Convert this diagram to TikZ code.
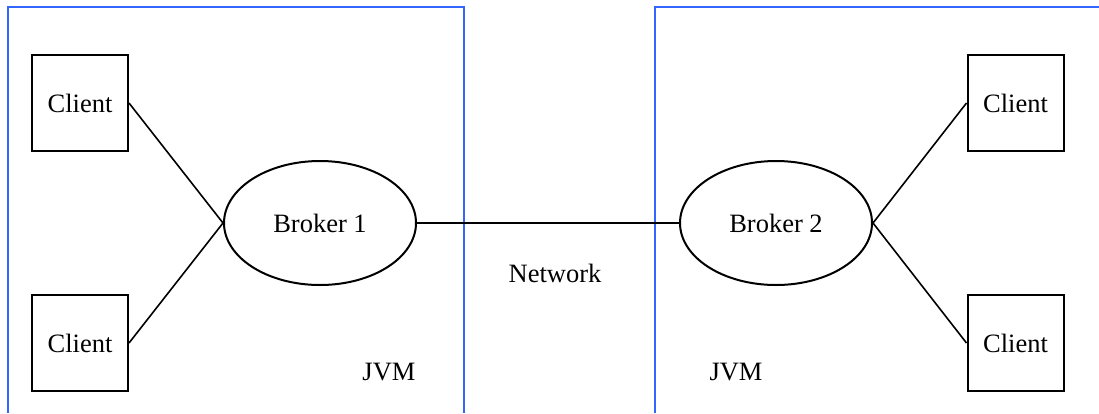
\documentclass[tikz,border=0pt]{standalone}
\usepackage{fontspec}
\setmainfont{Liberation Serif}
\usetikzlibrary{shapes.geometric}
\definecolor{jvmblue}{RGB}{51,102,255}
\begin{document}
\begin{tikzpicture}[x=1pt,y=-1pt,
  every node/.style={font=\fontsize{26.5}{31}\selectfont},
  client/.style={draw, line width=2pt, minimum width=96pt, minimum height=96pt, inner sep=0pt},
  broker/.style={draw, ellipse, line width=2pt, minimum width=192pt, minimum height=124pt, inner sep=0pt},
  link/.style={line width=1.6pt},
  jvm/.style={draw=jvmblue, line width=2pt}]
\useasboundingbox (0,0) rectangle (1099,413);
% JVM containers (open at the bottom and at the right)
\draw[jvm] (8,413) -- (8,7) -- (464,7) -- (464,413);
\draw[jvm] (655,413) -- (655,7) -- (1099,7);
% clients
\node[client] (c1) at (80,103) {Client};
\node[client] (c2) at (80,343) {Client};
\node[client] (c3) at (1015.5,103) {Client};
\node[client] (c4) at (1015.5,343) {Client};
% brokers
\node[broker] (b1) at (320,223) {Broker 1};
\node[broker] (b2) at (776,223) {Broker 2};
% connections
\draw[link] (c1.east) -- (b1.west);
\draw[link] (c2.east) -- (b1.west);
\draw[link] (c3.west) -- (b2.east);
\draw[link] (c4.west) -- (b2.east);
\draw[link] (b1.east) -- (b2.west);
% labels
\node (net) at (555,273) {Network};
\node (jvm1) at (389,372) {JVM};
\node (jvm2) at (736,372) {JVM};
\end{tikzpicture}
\end{document}
